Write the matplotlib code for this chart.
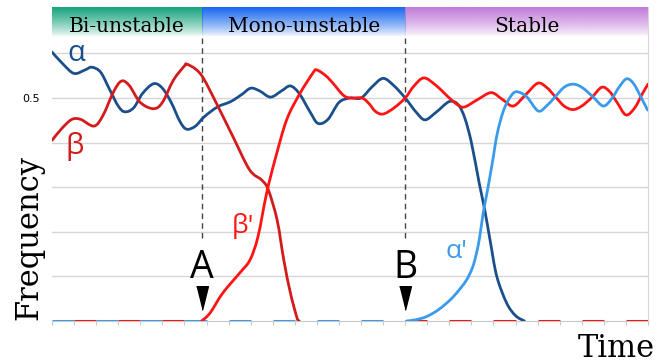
import numpy as np
import matplotlib.pyplot as plt
from matplotlib.colors import to_rgb
from matplotlib.path import Path
from matplotlib.patches import PathPatch

# time runs over 27 tick intervals, frequency on the y axis
alpha_t = [0, 0.5, 1.0, 1.5, 1.8, 2.2, 2.6, 3.0, 3.3, 3.7, 4.1, 4.6, 5.0, 5.4, 5.8, 6.1,
           6.5, 6.9, 7.5, 8.1, 8.6, 9.0, 9.4, 9.9, 10.4, 10.8, 11.2, 11.7, 12.05, 12.5,
           13.0, 13.5, 14.0, 14.5, 15.0, 15.5, 16.0, 16.5, 16.9, 17.4, 18.0, 18.4, 18.7,
           19.0, 19.35, 19.6, 19.85, 20.15, 20.6, 21.0, 21.4]
alpha_f = [0.603, 0.576, 0.555, 0.563, 0.569, 0.558, 0.52, 0.482, 0.469, 0.478, 0.51, 0.532,
           0.522, 0.49, 0.447, 0.430, 0.437, 0.458, 0.48, 0.492, 0.508, 0.522, 0.516, 0.502,
           0.516, 0.527, 0.51, 0.468, 0.443, 0.452, 0.49, 0.50, 0.50, 0.525, 0.544, 0.527,
           0.50, 0.468, 0.451, 0.468, 0.492, 0.485, 0.455, 0.40, 0.31, 0.25, 0.18, 0.10,
           0.04, 0.012, 0.0]

beta_t = [0, 0.45, 0.9, 1.3, 1.9, 2.3, 2.8, 3.15, 3.5, 4.0, 4.6, 5.0, 5.5, 6.0, 6.1, 6.5,
          6.85, 7.45, 8.2, 8.95, 9.5, 9.8, 10.2, 10.5, 10.8, 11.1, 11.2]
beta_f = [0.405, 0.432, 0.452, 0.452, 0.437, 0.46, 0.515, 0.538, 0.528, 0.49, 0.476, 0.49,
          0.54, 0.572, 0.576, 0.565, 0.545, 0.488, 0.413, 0.339, 0.316, 0.294, 0.226, 0.137,
          0.063, 0.007, 0.0]

beta2_t = [6.78, 7.16, 7.74, 8.51, 8.97, 9.33, 9.72, 10.1, 10.63, 11.23, 11.82, 11.99, 12.4,
           12.73, 13.18, 13.5, 14.04, 14.35, 14.65, 15.0, 15.5, 16.0, 16.4, 16.85, 17.4, 18.0,
           18.4, 18.7, 19.3, 19.9, 20.4, 20.9, 21.45, 22.0, 22.4, 22.8, 23.2, 23.6, 24.0,
           24.45, 24.9, 25.25, 25.6, 26.0, 26.4, 26.75, 27.0]
beta2_f = [0.0, 0.018, 0.063, 0.108, 0.137, 0.189, 0.286, 0.361, 0.451, 0.51, 0.556, 0.563,
           0.55, 0.533, 0.507, 0.50, 0.50, 0.488, 0.47, 0.464, 0.478, 0.50, 0.527, 0.545,
           0.528, 0.50, 0.484, 0.48, 0.497, 0.512, 0.497, 0.482, 0.507, 0.533, 0.524, 0.503,
           0.482, 0.474, 0.482, 0.501, 0.524, 0.515, 0.49, 0.462, 0.478, 0.510, 0.531]

alpha2_t = [16.06, 16.5, 16.97, 17.5, 18.03, 18.4, 18.78, 19.05, 19.23, 19.38, 19.53, 19.69,
            19.84, 20.0, 20.14, 20.33, 20.52, 20.8, 21.05, 21.5, 22.02, 22.4, 22.8, 23.2,
            23.6, 24.0, 24.5, 24.97, 25.35, 25.7, 26.03, 26.35, 26.7, 26.98]
alpha2_f = [0.0, 0.003, 0.01, 0.025, 0.047, 0.067, 0.092, 0.12, 0.152, 0.19, 0.241, 0.283,
            0.324, 0.37, 0.413, 0.452, 0.48, 0.505, 0.514, 0.503, 0.471, 0.482, 0.503, 0.524,
            0.531, 0.524, 0.503, 0.482, 0.498, 0.525, 0.543, 0.532, 0.50, 0.473]

A_time = 6.8
B_time = 16.0
t_end = 27
phase_names = ["Bi-unstable", "Mono-unstable", "Stable"]
phase_edges = [0, A_time, B_time, t_end]
phase_colors = ["#16a47e", "#1767f0", "#c07ad8"]
grid_levels = [0.1, 0.2, 0.3, 0.4, 0.5, 0.6]

c_alpha = "#1b4f8c"
c_beta = "#d41a1a"
c_beta2 = "#ff1414"
c_alpha2 = "#3a9bec"


def smooth_line(ax, xs, ys, color, lw):
    # smoothed line like a spreadsheet chart: catmull-rom segments as bezier curves
    p = np.column_stack([xs, ys])
    n = len(p)
    verts = [p[0]]
    codes = [Path.MOVETO]
    for i in range(n - 1):
        p0 = p[i - 1] if i > 0 else p[i]
        p3 = p[i + 2] if i + 2 < n else p[i + 1]
        c1 = p[i] + (p[i + 1] - p0) / 6
        c2 = p[i + 1] - (p3 - p[i]) / 6
        verts += [c1, c2, p[i + 1]]
        codes += [Path.CURVE4] * 3
    ax.add_patch(PathPatch(Path(verts, codes), fill=False, edgecolor=color, lw=lw,
                           zorder=4, capstyle="round", joinstyle="round"))


fig = plt.figure(figsize=(6.68, 3.63), dpi=100)
ax = fig.add_axes([52/668, 42/363, 596/668, 314/363])
ytop = 0.704
band_bot = 0.637

# header bands with fading colour
for i in range(3):
    rgb = to_rgb(phase_colors[i])
    grad = np.ones((60, 1, 4))
    grad[:, 0, :3] = rgb
    grad[:, 0, 3] = np.linspace(1, 0, 60) ** 0.8
    ax.imshow(grad, extent=[phase_edges[i], phase_edges[i+1], band_bot, ytop],
              aspect="auto", zorder=1, interpolation="bilinear")
    ax.text((phase_edges[i] + phase_edges[i+1]) / 2, 0.648, phase_names[i],
            ha="center", va="baseline", family="DejaVu Serif", fontsize=14.5, zorder=5)

for g in grid_levels:
    ax.axhline(g, color="#d6d6d6", lw=1, zorder=0)

# dashed phase boundaries
for tb in [A_time, B_time]:
    ax.plot([tb, tb], [0.185, band_bot], color="#444444", lw=1, dashes=(4, 3), zorder=2)

# zero-level dashes of the absent types
for k in range(0, int(B_time), 2):
    ax.plot([k, k+1], [0, 0], color=c_alpha2, lw=2.2, solid_capstyle="butt", zorder=3)
for k in range(1, int(A_time), 2):
    ax.plot([k, k+1], [0, 0], color=c_beta2, lw=2.2, solid_capstyle="butt", zorder=3)
for k in range(int(B_time), t_end, 2):
    ax.plot([k, k+1], [0, 0], color=c_beta2, lw=2.2, solid_capstyle="butt", zorder=3)

smooth_line(ax, alpha_t, alpha_f, c_alpha, 2)
smooth_line(ax, beta_t, beta_f, c_beta, 2)
smooth_line(ax, beta2_t, beta2_f, c_beta2, 2)
smooth_line(ax, alpha2_t, alpha2_f, c_alpha2, 2)

fam = ["Open Sans", "DejaVu Sans"]
ax.text(1.1, 0.599, "α", color=c_alpha, fontsize=21, ha="center", va="center", family=fam)
ax.text(1.05, 0.392, "β", color=c_beta, fontsize=21, ha="center", va="center", family=fam)
ax.text(8.65, 0.213, "β'", color=c_beta2, fontsize=19, ha="center", va="center", family=fam)
ax.text(18.3, 0.155, "α'", color=c_alpha2, fontsize=19, ha="center", va="center", family=fam)

tri = [(-0.5, 1), (0.5, 1), (0, -1)]
for tb, name in [(A_time, "A"), (B_time, "B")]:
    ax.text(tb, 0.119, name, fontsize=27, ha="center", va="center", family=fam)
    ax.plot([tb], [0.052], marker=tri, markersize=17, color="black", zorder=6)

ax.set_xlim(0, t_end)
ax.set_ylim(0, ytop)
ax.set_xticks(range(0, t_end + 1))
ax.set_xticklabels([])
ax.set_yticks(grid_levels)
ax.set_yticklabels(["0.5" if g == 0.5 else "" for g in grid_levels])
ax.tick_params(axis="x", length=3, color="#c8c8c8", direction="out")
ax.tick_params(axis="y", length=0, labelsize=8, pad=9)
for s in ["top", "left"]:
    ax.spines[s].set_visible(False)
ax.spines["right"].set_color("#d6d6d6")
ax.spines["bottom"].set_color("#c8c8c8")

fig.text(0.043, 0.347, "Frequency", rotation=90, ha="center", va="center",
         family="DejaVu Serif", fontsize=22)
fig.text(655/668, 6/363, "Time", ha="right", va="baseline", family="DejaVu Serif", fontsize=22)

fig.savefig("out.png", dpi=100)
